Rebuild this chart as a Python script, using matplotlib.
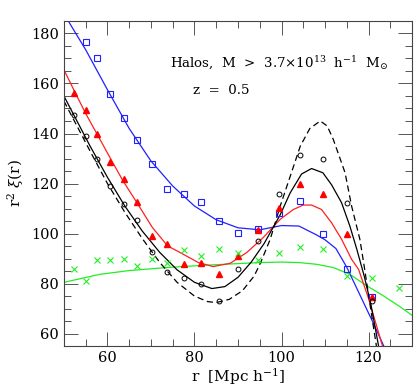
import numpy as np
import matplotlib
matplotlib.use('Agg')
import matplotlib.pyplot as plt
from matplotlib.ticker import MultipleLocator

# measured points (r in Mpc/h, r^2 xi)
r_bins = [52.4, 55.1, 57.7, 60.7, 63.8, 66.9, 70.3, 73.8, 77.7, 81.6,
          85.7, 90.0, 94.5, 99.4, 104.3, 109.5, 115.1, 120.9, 127.0]

blue_y = [None, 176.5, 170.1, 155.8, 146.2, 137.6, 127.8, 117.9, 115.9, 112.7,
          105.0, 100.3, 101.7, 108.3, 113.2, 99.7, 85.9, 74.5, None]
red_y = [156.2, 149.3, 139.9, 128.5, 122.0, 112.7, 99.0, 95.7, 88.0, 88.4,
         83.7, 91.0, 101.5, 110.3, 119.9, 115.9, 99.7, 74.5, None]
black_y = [147.2, 138.9, 130.0, 119.2, 112.0, 105.4, 92.8, 84.8, 82.4, 79.7,
           73.1, 85.7, 97.0, 115.9, 131.3, 129.9, 112.3, 73.1, None]
green_y = [85.7, 81.1, 89.5, 89.5, 89.8, 87.1, 89.8, 88.4, 93.4, 91.0,
           93.7, 92.4, 89.4, 92.1, 94.8, 93.7, 83.1, 82.1, 78.4]

# model curves
blue_fit_x = [51, 55, 60, 65, 70, 75, 80, 85, 90, 95, 100, 104, 108, 110,
              112.5, 115, 118, 121, 123.5]
blue_fit_y = [185, 173.5, 157.5, 142, 129, 119, 111, 105.5, 102.3, 101.5,
              103.2, 103, 99.5, 97.5, 94, 86.5, 75.5, 64.5, 55]

red_fit_x = [50, 52.4, 55, 58.3, 60.7, 63.6, 66.9, 70.3, 73.8, 76.7, 80.9,
             84.3, 88.2, 92, 95.8, 99.7, 102.7, 105, 106.9, 109.2, 111.5,
             113.8, 116.1, 117.7, 120, 123.2]
red_fit_y = [165.5, 157, 148, 137.6, 130, 121, 112, 102.5, 95.1, 92.4, 88.4,
             86.8, 88.1, 92.4, 98.4, 105.7, 109.6, 111.4, 111.4, 109.6, 104.3,
             97.7, 89.7, 85.7, 74, 55]

black_fit_x = [50, 53, 56, 60, 64, 68, 72, 76, 80, 84, 87, 90, 93, 96, 99.7,
               102, 104.6, 106.9, 109.5, 111.5, 113.8, 115.7, 117.3, 119,
               120.5, 122.3]
black_fit_y = [155, 145, 135, 122.5, 111, 101, 92.5, 85.5, 80.5, 78, 78.8,
               82.5, 88.5, 96, 107.5, 116.3, 123.8, 126, 124.3, 119.5, 112.3,
               103, 93.7, 83, 72, 55]

dash_fit_x = [50, 53, 56, 60, 64, 68, 72, 76, 80, 83, 85, 88, 91, 93.7, 95.1,
              97.4, 99.7, 102, 104.3, 106.5, 108.9, 110.5, 111.9, 114.6,
              116.1, 118, 118.9, 120.3, 121.8]
dash_fit_y = [153, 143, 133, 120, 108.5, 98, 88.5, 80.5, 75, 72.8, 72.4, 73.7,
              77.1, 83, 88, 97.7, 111, 122.9, 134.9, 142, 145, 143, 137.6,
              124.3, 111, 97.7, 88, 72, 55]

green_fit_x = [50, 58.3, 65, 73.6, 81, 89, 95, 100, 104, 108.1, 111.9, 115.7,
               119.6, 123.4, 127, 130]
green_fit_y = [80.5, 83.7, 85.2, 86.4, 87.2, 87.9, 88.4, 88.6, 88.4, 87.7,
               86.4, 83.7, 79.1, 75.1, 71, 67.3]

plt.rcParams['font.family'] = 'DejaVu Serif'
plt.rcParams['mathtext.fontset'] = 'dejavuserif'

fig = plt.figure(figsize=(4.15, 3.88), dpi=100)
ax = fig.add_axes([0.154, 0.108, 0.839, 0.838])


def pts(ys):
    xs = [x for x, y in zip(r_bins, ys) if y is not None]
    return xs, [y for y in ys if y is not None]


ax.plot(green_fit_x, green_fit_y, '-', color='#22ee22', lw=0.9)
ax.plot(blue_fit_x, blue_fit_y, '-', color='#2020ff', lw=0.9)
ax.plot(red_fit_x, red_fit_y, '-', color='#ff2020', lw=0.9)
ax.plot(black_fit_x, black_fit_y, '-', color='k', lw=0.9)
ax.plot(dash_fit_x, dash_fit_y, '--', color='k', lw=0.9, dashes=(5, 3))

x, y = pts(blue_y)
ax.plot(x, y, 's', ms=4.5, mfc='none', mec='#2020ff', mew=0.8)
x, y = pts(red_y)
ax.plot(x, y, '^', ms=5, color='#ff0000')
x, y = pts(black_y)
ax.plot(x, y, 'o', ms=3.5, mfc='none', mec='k', mew=0.7)
x, y = pts(green_y)
ax.plot(x, y, 'x', ms=4, color='#22ee22', mew=0.8)

ax.set_xlim(50, 130)
ax.set_ylim(55, 185)
ax.xaxis.set_major_locator(MultipleLocator(20))
ax.xaxis.set_minor_locator(MultipleLocator(5))
ax.yaxis.set_major_locator(MultipleLocator(20))
ax.yaxis.set_minor_locator(MultipleLocator(5))
ax.tick_params(which='both', direction='in', top=True, right=True,
               labelsize=10.5, color='#555555')
ax.tick_params(which='major', length=10, width=0.7)
ax.tick_params(which='minor', length=5, width=0.7)
for s in ax.spines.values():
    s.set_linewidth(0.8)
    s.set_color('#444444')

ax.set_xlabel(r'r  [Mpc h$^{-1}$]', fontsize=11, labelpad=1)
ax.set_ylabel(r'r$^2$ $\xi$(r)', fontsize=11)

ax.text(0.305, 0.855, r'Halos,  M  >  3.7$\times$10$^{13}$  h$^{-1}$  M$_{\odot}$',
        transform=ax.transAxes, fontsize=9.6)
ax.text(0.37, 0.775, r'z  =  0.5', transform=ax.transAxes, fontsize=9.6)

fig.savefig('out.png', dpi=100)
